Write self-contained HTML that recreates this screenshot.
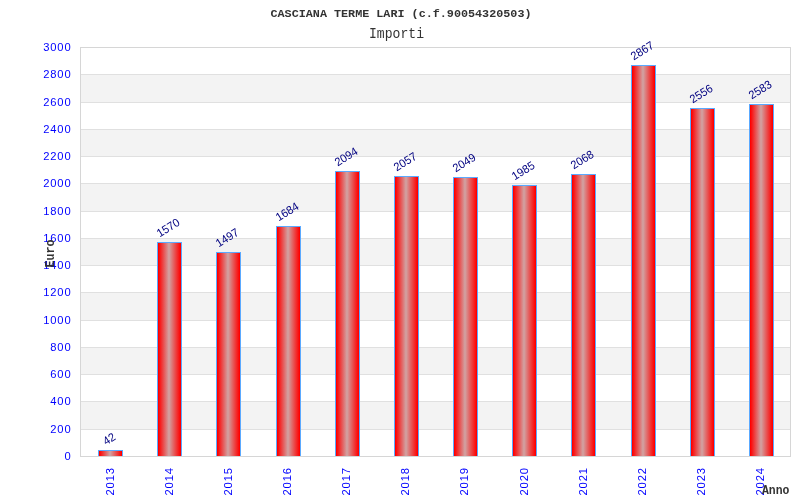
<!DOCTYPE html>
<html><head><meta charset="utf-8"><style>
html,body{margin:0;padding:0;background:#fff;width:800px;height:500px;overflow:hidden}
svg{display:block;will-change:transform}
text{font-family:"Liberation Sans",sans-serif}
.mono text{font-family:"Liberation Mono",monospace}
</style></head><body>
<svg width="800" height="500" viewBox="0 0 800 500">
<defs>
<linearGradient id="g" x1="0" x2="1" y1="0" y2="0">
<stop offset="0.0217" stop-color="#ff0000"/>
<stop offset="0.4565" stop-color="#d39c9c"/>
<stop offset="0.5" stop-color="#d39c9c"/>
<stop offset="0.9783" stop-color="#ff0000"/>
</linearGradient>
</defs>
<rect x="0" y="0" width="800" height="500" fill="#fff"/>

<g shape-rendering="crispEdges"><rect x="80" y="401" width="710" height="28" fill="#f3f3f3"/><rect x="80" y="347" width="710" height="27" fill="#f3f3f3"/><rect x="80" y="292" width="710" height="28" fill="#f3f3f3"/><rect x="80" y="238" width="710" height="27" fill="#f3f3f3"/><rect x="80" y="183" width="710" height="28" fill="#f3f3f3"/><rect x="80" y="129" width="710" height="27" fill="#f3f3f3"/><rect x="80" y="74" width="710" height="28" fill="#f3f3f3"/>
<rect x="80" y="429" width="710" height="1" fill="#e0e0e0"/>
<rect x="80" y="401" width="710" height="1" fill="#e0e0e0"/>
<rect x="80" y="374" width="710" height="1" fill="#e0e0e0"/>
<rect x="80" y="347" width="710" height="1" fill="#e0e0e0"/>
<rect x="80" y="320" width="710" height="1" fill="#e0e0e0"/>
<rect x="80" y="292" width="710" height="1" fill="#e0e0e0"/>
<rect x="80" y="265" width="710" height="1" fill="#e0e0e0"/>
<rect x="80" y="238" width="710" height="1" fill="#e0e0e0"/>
<rect x="80" y="211" width="710" height="1" fill="#e0e0e0"/>
<rect x="80" y="183" width="710" height="1" fill="#e0e0e0"/>
<rect x="80" y="156" width="710" height="1" fill="#e0e0e0"/>
<rect x="80" y="129" width="710" height="1" fill="#e0e0e0"/>
<rect x="80" y="102" width="710" height="1" fill="#e0e0e0"/>
<rect x="80" y="74" width="710" height="1" fill="#e0e0e0"/>
</g>
<g shape-rendering="crispEdges">
<rect x="98" y="450" width="25" height="7" fill="#5aa9ff"/>
<rect x="99" y="451" width="23" height="5" fill="url(#g)"/>
<rect x="157" y="242" width="25" height="215" fill="#5aa9ff"/>
<rect x="158" y="243" width="23" height="213" fill="url(#g)"/>
<rect x="216" y="252" width="25" height="205" fill="#5aa9ff"/>
<rect x="217" y="253" width="23" height="203" fill="url(#g)"/>
<rect x="276" y="226" width="25" height="231" fill="#5aa9ff"/>
<rect x="277" y="227" width="23" height="229" fill="url(#g)"/>
<rect x="335" y="171" width="25" height="286" fill="#5aa9ff"/>
<rect x="336" y="172" width="23" height="284" fill="url(#g)"/>
<rect x="394" y="176" width="25" height="281" fill="#5aa9ff"/>
<rect x="395" y="177" width="23" height="279" fill="url(#g)"/>
<rect x="453" y="177" width="25" height="280" fill="#5aa9ff"/>
<rect x="454" y="178" width="23" height="278" fill="url(#g)"/>
<rect x="512" y="185" width="25" height="272" fill="#5aa9ff"/>
<rect x="513" y="186" width="23" height="270" fill="url(#g)"/>
<rect x="571" y="174" width="25" height="283" fill="#5aa9ff"/>
<rect x="572" y="175" width="23" height="281" fill="url(#g)"/>
<rect x="631" y="65" width="25" height="392" fill="#5aa9ff"/>
<rect x="632" y="66" width="23" height="390" fill="url(#g)"/>
<rect x="690" y="108" width="25" height="349" fill="#5aa9ff"/>
<rect x="691" y="109" width="23" height="347" fill="url(#g)"/>
<rect x="749" y="104" width="25" height="353" fill="#5aa9ff"/>
<rect x="750" y="105" width="23" height="351" fill="url(#g)"/>
</g>
<g shape-rendering="crispEdges" fill="#d6d6d6">
<rect x="80" y="47" width="711" height="1"/>
<rect x="80" y="456" width="711" height="1"/>
<rect x="80" y="47" width="1" height="410"/>
<rect x="790" y="47" width="1" height="410"/>
</g>
<g fill="#0000ff" font-size="11.20" letter-spacing="0.85" text-anchor="end">
<text x="71.5" y="456.00" dominant-baseline="central">0</text>
<text x="71.5" y="429.00" dominant-baseline="central">200</text>
<text x="71.5" y="401.00" dominant-baseline="central">400</text>
<text x="71.5" y="374.00" dominant-baseline="central">600</text>
<text x="71.5" y="347.00" dominant-baseline="central">800</text>
<text x="71.5" y="320.00" dominant-baseline="central">1000</text>
<text x="71.5" y="292.00" dominant-baseline="central">1200</text>
<text x="71.5" y="265.00" dominant-baseline="central">1400</text>
<text x="71.5" y="238.00" dominant-baseline="central">1600</text>
<text x="71.5" y="211.00" dominant-baseline="central">1800</text>
<text x="71.5" y="183.00" dominant-baseline="central">2000</text>
<text x="71.5" y="156.00" dominant-baseline="central">2200</text>
<text x="71.5" y="129.00" dominant-baseline="central">2400</text>
<text x="71.5" y="102.00" dominant-baseline="central">2600</text>
<text x="71.5" y="74.00" dominant-baseline="central">2800</text>
<text x="71.5" y="47.00" dominant-baseline="central">3000</text>
</g>
<g fill="#0000ff" font-size="11.30" letter-spacing="0.85" text-anchor="end">
<text transform="translate(109.70,467.00) rotate(-90)" dominant-baseline="central">2013</text>
<text transform="translate(168.82,467.00) rotate(-90)" dominant-baseline="central">2014</text>
<text transform="translate(227.94,467.00) rotate(-90)" dominant-baseline="central">2015</text>
<text transform="translate(287.06,467.00) rotate(-90)" dominant-baseline="central">2016</text>
<text transform="translate(346.18,467.00) rotate(-90)" dominant-baseline="central">2017</text>
<text transform="translate(405.30,467.00) rotate(-90)" dominant-baseline="central">2018</text>
<text transform="translate(464.42,467.00) rotate(-90)" dominant-baseline="central">2019</text>
<text transform="translate(523.54,467.00) rotate(-90)" dominant-baseline="central">2020</text>
<text transform="translate(582.66,467.00) rotate(-90)" dominant-baseline="central">2021</text>
<text transform="translate(641.78,467.00) rotate(-90)" dominant-baseline="central">2022</text>
<text transform="translate(700.90,467.00) rotate(-90)" dominant-baseline="central">2023</text>
<text transform="translate(760.02,467.00) rotate(-90)" dominant-baseline="central">2024</text>
</g>
<g fill="#000080" font-size="11.50">
<text transform="translate(105.98,445.50) rotate(-32) scale(0.960,1)">42</text>
<text transform="translate(159.77,237.50) rotate(-32) scale(0.960,1)">1570</text>
<text transform="translate(218.77,247.50) rotate(-32) scale(0.960,1)">1497</text>
<text transform="translate(278.77,221.50) rotate(-32) scale(0.960,1)">1684</text>
<text transform="translate(337.77,166.50) rotate(-32) scale(0.960,1)">2094</text>
<text transform="translate(396.77,171.50) rotate(-32) scale(0.960,1)">2057</text>
<text transform="translate(455.77,172.50) rotate(-32) scale(0.960,1)">2049</text>
<text transform="translate(514.77,180.50) rotate(-32) scale(0.960,1)">1985</text>
<text transform="translate(573.77,169.50) rotate(-32) scale(0.960,1)">2068</text>
<text transform="translate(633.77,60.50) rotate(-32) scale(0.960,1)">2867</text>
<text transform="translate(692.77,103.50) rotate(-32) scale(0.960,1)">2556</text>
<text transform="translate(751.77,99.50) rotate(-32) scale(0.960,1)">2583</text>
</g>
<g fill="#333333" class="mono">
<text x="270.50" y="17.00" font-size="11.70" font-weight="bold" textLength="261.0" lengthAdjust="spacingAndGlyphs">CASCIANA TERME LARI (c.f.90054320503)</text>
<text x="369.00" y="38.00" font-size="14.50" textLength="55.0" lengthAdjust="spacingAndGlyphs">Importi</text>
<text transform="translate(53.70,267.50) rotate(-90)" font-size="12.30" font-weight="bold" textLength="28.0" lengthAdjust="spacingAndGlyphs">Euro</text>
<text x="762.00" y="493.90" font-size="12.30" font-weight="bold" textLength="27.5" lengthAdjust="spacingAndGlyphs">Anno</text>
</g>
</svg></body></html>
